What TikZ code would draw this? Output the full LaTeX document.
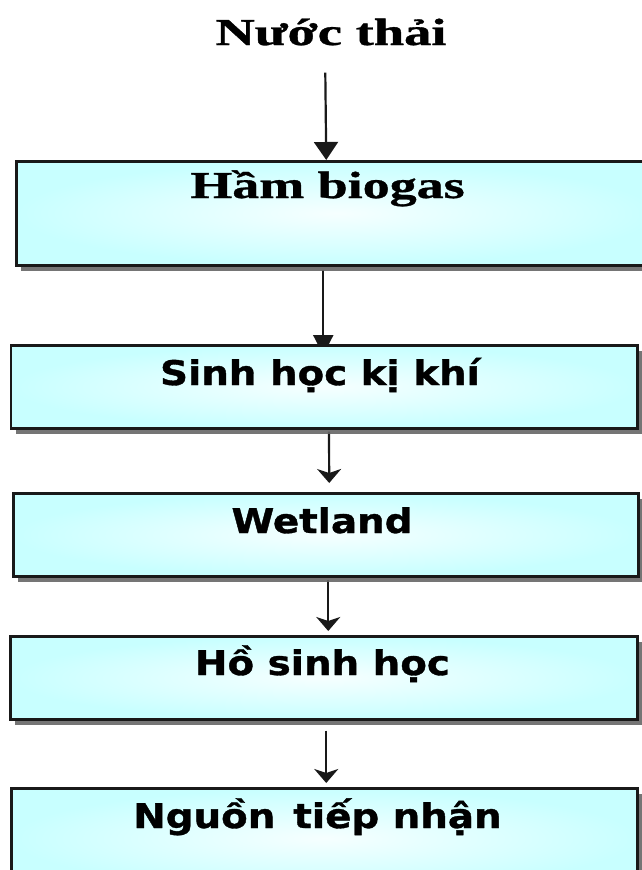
\documentclass[tikz,border=0pt]{standalone}
\usepackage{fontspec}
\usepackage{graphicx}
\usetikzlibrary{shadows,arrows.meta}
\setmainfont[BoldFeatures={FakeBold=0.8}]{Liberation Serif}
\newfontfamily\boxsans[BoldFeatures={FakeBold=1.0}]{DejaVu Sans}
\definecolor{boxout}{RGB}{200,255,255}
\definecolor{boxin}{RGB}{246,255,255}
\definecolor{ink}{RGB}{25,25,25}
\pgfdeclarelayer{bg}
\pgfsetlayers{bg,main}
\begin{document}
\begin{tikzpicture}[x=1pt,y=-1pt,
  flowbox/.style={draw=ink, line width=2.5pt, inner color=boxin, outer color=boxout,
    drop shadow={shadow xshift=5pt, shadow yshift=-6pt, fill=black!60, opacity=0.9},
    anchor=north west, inner sep=0pt},
  seriflabel/.style={font=\fontsize{38}{40}\selectfont\bfseries, anchor=base, inner sep=0pt, text=black},
  sanslabel/.style={font=\boxsans\fontsize{34}{36}\selectfont\bfseries, anchor=base, inner sep=0pt, text=black},
  flowline/.style={draw=ink, line width=2.2pt},
  bigtip/.style={flowline, -{Triangle[width=24pt,length=18pt]}},
  midtip/.style={flowline, -{Triangle[width=20pt,length=20pt]}},
  smalltip/.style={flowline, -{Stealth[width=24pt,length=14pt,inset=4pt]}}
]
\useasboundingbox (0,0) rectangle (641,870);
\begin{pgfonlayer}{bg}
\fill[white] (0,0) rectangle (641,870);
\end{pgfonlayer}

% boxes
\node[flowbox, minimum width=640pt, minimum height=104pt] (b1) at (15,160) {};
\node[flowbox, minimum width=626.5pt, minimum height=83pt] (b2) at (9.5,344) {};
\node[flowbox, minimum width=625pt, minimum height=83pt] (b3) at (12,492) {};
\node[flowbox, minimum width=627pt, minimum height=83pt] (b4) at (9,635) {};
\node[flowbox, minimum width=626pt, minimum height=100pt] (b5) at (10,787) {};

% labels
\node[seriflabel] (t) at (331,45) {\scalebox{1.435}[1]{Nước thải}};
\node[seriflabel] (l1) at (327.5,198) {\scalebox{1.42}[1]{Hầm biogas}};
\node[sanslabel] (l2) at (320,385) {\scalebox{1.14}[1]{Sinh học kị khí}};
\node[sanslabel] (l3) at (322,533) {\scalebox{1.14}[1]{Wetland}};
\node[sanslabel] (l4) at (322.5,675) {\scalebox{1.14}[1]{Hồ sinh học}};
\node[sanslabel] (l5) at (317.5,828) {\scalebox{1.14}[1]{Nguồn\kern4pt\ tiếp nhận}};

% connectors
\begin{pgfonlayer}{bg}
\draw[bigtip, shorten <=27pt] ([xshift=-6pt]t.south) -- ([xshift=-10pt]b1.north);
\draw[midtip, shorten <=3pt] ([xshift=-13pt]b1.south) -- ([xshift=-0.75pt,yshift=-11pt]b2.north);
\draw[smalltip, shorten <=2pt, shorten >=9pt] ([xshift=5pt]b2.south) -- ([xshift=3.5pt]b3.north);
\draw[smalltip, shorten <=2pt, shorten >=4pt] ([xshift=2.5pt]b3.south) -- ([xshift=4.5pt]b4.north);
\draw[smalltip, shorten <=10pt, shorten >=4pt] ([xshift=2.5pt]b4.south) -- ([xshift=2pt]b5.north);
\end{pgfonlayer}
\end{tikzpicture}
\end{document}
